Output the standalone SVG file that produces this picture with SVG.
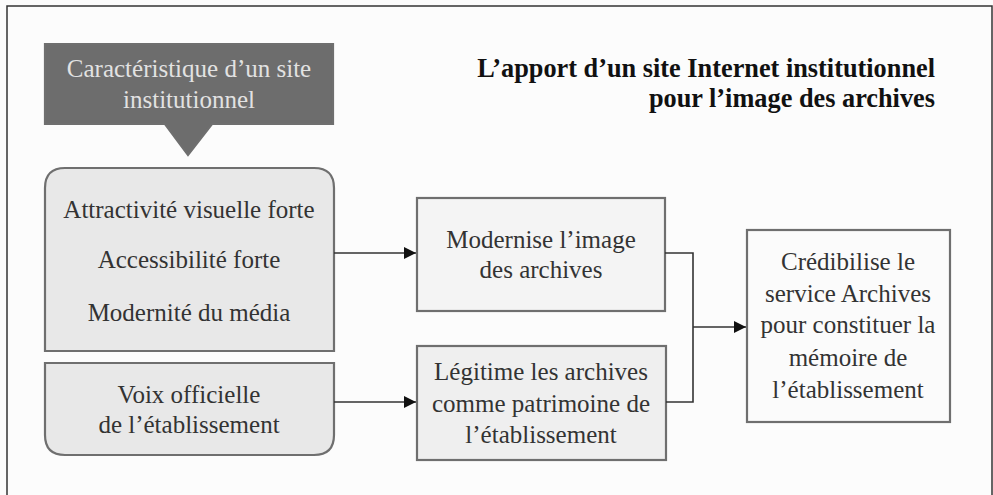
<svg xmlns="http://www.w3.org/2000/svg" width="993" height="495" viewBox="0 0 993 495" font-family="'Liberation Serif', 'DejaVu Serif', serif">
<style>
text{font-family:"Liberation Serif","DejaVu Serif",serif;font-size:25px;fill:#333;text-anchor:middle}
.title{font-weight:bold;text-anchor:end;fill:#111;font-size:26.3px}
.callout{fill:#e2e2e2}
.box{stroke:#6f6f6f;stroke-width:2.2}
.conn{fill:none;stroke:#333;stroke-width:1.6}
</style>
<defs>
<marker id="arr" viewBox="0 0 10 10" refX="10" refY="5" markerWidth="15" markerHeight="12" markerUnits="userSpaceOnUse" orient="auto">
<path d="M0,0 L10,5 L0,10 Z" fill="#111"/>
</marker>
</defs>
<rect x="0" y="0" width="993" height="495" fill="#fcfcfc"/>
<path d="M7,495 V6 H992 V495" fill="none" stroke="#333" stroke-width="1.5"/>

<g id="title">
<text class="title" x="935" y="77">L’apport d’un site Internet institutionnel</text>
<text class="title" x="935" y="107">pour l’image des archives</text>
</g>

<g id="caracteristique">
<path class="box" d="M45,44 H333 V124 H212 L188,155 L165,124 H45 Z" fill="#6d6d6d" stroke="#555"/>
<text class="callout" x="189" y="77">Caractéristique d’un site</text>
<text class="callout" x="189" y="108">institutionnel</text>
</g>

<g id="atouts">
<path class="box" d="M45,351 V188 Q45,168 65,168 H314 Q334,168 334,188 V351 Z" fill="#e8e8e8"/>
<text x="189" y="218">Attractivité visuelle forte</text>
<text x="189" y="268">Accessibilité forte</text>
<text x="189" y="321">Modernité du média</text>
</g>

<g id="voix">
<path class="box" d="M45,363 H334 V435 Q334,455 314,455 H65 Q45,455 45,435 Z" fill="#e8e8e8"/>
<text x="189" y="403">Voix officielle</text>
<text x="189" y="433">de l’établissement</text>
</g>

<g id="modernise">
<rect class="box" x="417" y="198" width="248" height="113" fill="#f4f4f4"/>
<text x="541" y="248">Modernise l’image</text>
<text x="541" y="278">des archives</text>
</g>

<g id="legitime">
<rect class="box" x="417" y="346" width="249" height="114" fill="#efefef"/>
<text x="541" y="380">Légitime les archives</text>
<text x="541" y="412">comme patrimoine de</text>
<text x="541" y="443">l’établissement</text>
</g>

<g id="credibilise">
<rect class="box" x="747" y="230" width="203" height="192" fill="#fbfbfb"/>
<text x="848" y="270">Crédibilise le</text>
<text x="848" y="302">service Archives</text>
<text x="848" y="333">pour constituer la</text>
<text x="848" y="366">mémoire de</text>
<text x="848" y="398">l’établissement</text>
</g>

<g id="connectors">
<path class="conn" d="M334,253 H416" marker-end="url(#arr)"/>
<path class="conn" d="M334,402 H416" marker-end="url(#arr)"/>
<path class="conn" d="M665,253 H693 V402 H666"/>
<path class="conn" d="M693,327 H746" marker-end="url(#arr)"/>
</g>
</svg>
